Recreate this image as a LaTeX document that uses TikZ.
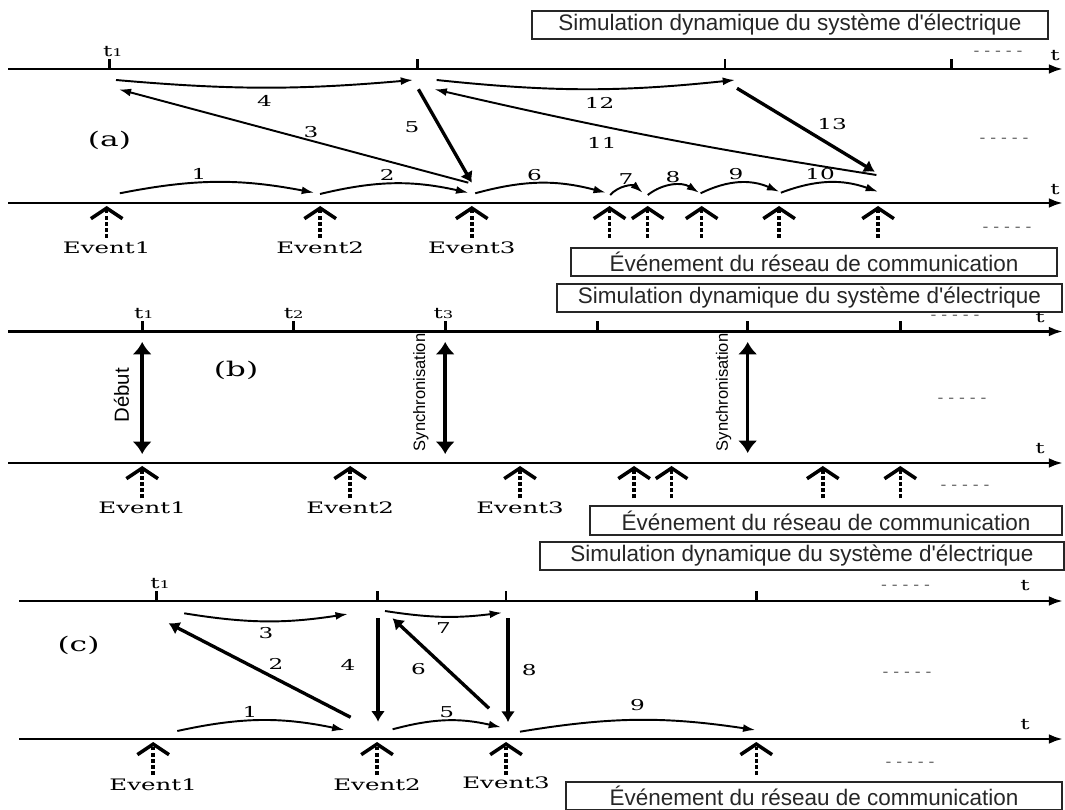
\documentclass[tikz,border=0pt]{standalone}
\usepackage{fontspec}
\setsansfont{Liberation Sans}
\newfontfamily\serwide[FakeStretch=1.55]{DejaVu Serif}
\usepackage{tikz}
\usetikzlibrary{arrows.meta, positioning}

\tikzset{
    axis/.style={line width=1.5pt, -{Latex[length=8pt,width=5.5pt]}},
    tick/.style={line width=1.5pt},
    msg/.style={line width=1.1pt, -{Latex[length=7pt,width=4.5pt]}},
    bigmsg/.style={line width=1.9pt, -{Latex[length=6pt,width=8pt]}},
    event/.style={line width=2pt, dash pattern=on 2.2pt off 1.3pt, -{Straight Barb[length=6pt,width=18pt]}},
    sync/.style={line width=2pt, {Latex[length=7pt,width=11pt]}-{Latex[length=7pt,width=11pt]}},
    titlebox/.style={draw=black!85, line width=0.9pt, font=\sffamily\fontsize{12.8}{14}\selectfont, text=black!85, minimum height=0.56cm, inner sep=0pt},
    num/.style={font=\serwide\fontsize{8.5}{10}\selectfont, inner sep=1pt},
    evlbl/.style={font=\serwide\fontsize{9}{10}\selectfont, inner sep=1pt},
    tlbl/.style={font=\serwide\fontsize{8.5}{10}\selectfont, inner sep=1pt},
    part/.style={font=\serwide\fontsize{11.5}{13}\selectfont},
    dots/.style={font=\sffamily\fontsize{10}{10}\selectfont, text=black!55, inner sep=0pt},
    side/.style={font=\sffamily\fontsize{#1}{#1}\selectfont, rotate=90, inner sep=0pt}
}

\begin{document}
\begin{tikzpicture}[x=0.02cm, y=-0.02cm]
    \useasboundingbox (0,0) rectangle (1065,810);

    % ---------------- (a) ----------------
    \node[titlebox, minimum width=10.32cm] (simA) at (790,25) {Simulation dynamique du système d\textquotesingle électrique};
    \node[titlebox, minimum width=9.72cm] (resA) at (814,262) {Événement du réseau de communication};
    \coordinate (aT0) at (8,69);  \coordinate (aT1) at (1063,69);
    \coordinate (aB0) at (8,203); \coordinate (aB1) at (1063,203);
    \draw[axis] (aT0) -- (aT1);
    \draw[axis] (aB0) -- (aB1);
    \coordinate (ta1) at (109.5,69); \coordinate (ta2) at (417.7,69);
    \coordinate (ta3) at (725,69);   \coordinate (ta4) at (951.5,69);
    \draw[tick] (ta1) -- ++(0,-10) (ta2) -- ++(0,-10) (ta3) -- ++(0,-10) (ta4) -- ++(0,-10);
    \node[tlbl, above=6pt of ta1, xshift=2pt] (lta1) {t{\fontsize{6}{6}\selectfont 1}};
    \node[tlbl] (tA1) at (1055,56) {t};
    \node[tlbl] (tA2) at (1055,190) {t};
    \node[dots] (dA1) at (998,54) {- - - - -};
    \node[dots] (dA2) at (1004,141) {- - - - -};
    \node[dots] (dA3) at (1007,230) {- - - - -};
    \node[part] (pa) at (109.5,140) {(a)};

    % events (a)
    \coordinate (ea1) at (106.7,206); \coordinate (eb1) at (106.7,238);
    \coordinate (ea2) at (320.2,206); \coordinate (eb2) at (320.2,238);
    \coordinate (ea3) at (471.8,206); \coordinate (eb3) at (471.8,238);
    \coordinate (ea4) at (609.5,206); \coordinate (eb4) at (609.5,238);
    \coordinate (ea5) at (647.7,206); \coordinate (eb5) at (647.7,238);
    \coordinate (ea6) at (701.7,206); \coordinate (eb6) at (701.7,238);
    \coordinate (ea7) at (779.1,206); \coordinate (eb7) at (779.1,238);
    \coordinate (ea8) at (878.1,206); \coordinate (eb8) at (878.1,238);
    \path[event] (eb1) edge (ea1) (eb2) edge (ea2) (eb3) edge (ea3) (eb4) edge (ea4)
                 (eb5) edge (ea5) (eb6) edge (ea6) (eb7) edge (ea7) (eb8) edge (ea8);
    \node[evlbl, below=1pt of eb1] (Ea1) {Event1};
    \node[evlbl, below=1pt of eb2] (Ea2) {Event2};
    \node[evlbl, below=1pt of eb3] (Ea3) {Event3};

    % messages (a)
    \coordinate (a1s) at (119.8,193.3);  \coordinate (a1e) at (314,192.7);
    \coordinate (a2s) at (320,194);      \coordinate (a2e) at (468.3,192.7);
    \coordinate (a6s) at (475.2,193.3);  \coordinate (a6e) at (605.8,192.7);
    \coordinate (a7s) at (610.2,195);    \coordinate (a7e) at (642.6,192.7);
    \coordinate (a8s) at (647.7,195);    \coordinate (a8e) at (699,192.7);
    \coordinate (a9s) at (700.6,193.3);  \coordinate (a9e) at (779.2,191.7);
    \coordinate (a10s) at (780.9,192.7); \coordinate (a10e) at (878,191.7);
    \coordinate (a4s) at (116,80);       \coordinate (a4e) at (413,80);
    \coordinate (a12s) at (436.6,80);    \coordinate (a12e) at (735,80);
    \coordinate (a3s) at (468.3,182.7);  \coordinate (a3e) at (118.8,89.3);
    \coordinate (a5s) at (418.4,89.3);   \coordinate (a5e) at (471.8,182.7);
    \coordinate (a11s) at (876.4,175);   \coordinate (a11e) at (434.6,89.3);
    \coordinate (a13s) at (737,88.3);    \coordinate (a13e) at (874.7,171.7);

    \path[msg]
    (a1s) edge [bend left=11] node[num, above, pos=.4] {1} (a1e)
    (a2s) edge [bend left=13] node[num, above, pos=.45] {2} (a2e)
    (a6s) edge [bend left=15] node[num, above, pos=.45] {6} (a6e)
    (a7s) edge [bend left=45] node[num, above] {7} (a7e)
    (a8s) edge [bend left=35] node[num, above] {8} (a8e)
    (a9s) edge [bend left=25] node[num, above, pos=.45] {9} (a9e)
    (a10s) edge [bend left=20] node[num, above, pos=.4] {10} (a10e)
    (a4s) edge [bend right=5] node[num, below=3pt] {4} (a4e)
    (a12s) edge [bend right=6] node[num, below=3pt, pos=.55] {12} (a12e)
    (a3s) edge node[num, above, pos=.45] {3} (a3e)
    (a11s) edge [bend left=2] node[num, below=5pt, pos=.63] {11} (a11e);
    \path[bigmsg]
    (a5s) edge node[num, left=10pt, pos=.41] {5} (a5e)
    (a13s) edge node[num, above right=1pt, pos=.55] {13} (a13e);

    % ---------------- (b) ----------------
    \node[titlebox, minimum width=10.1cm] (simB) at (809.5,298) {Simulation dynamique du système d\textquotesingle électrique};
    \node[titlebox, minimum width=9.44cm, minimum height=0.58cm] (resB) at (826,520.5) {Événement du réseau de communication};
    \coordinate (bT0) at (8,331.5); \coordinate (bT1) at (1063,331.5);
    \coordinate (bB0) at (8,463);   \coordinate (bB1) at (1063,463);
    \draw[axis] (bT0) -- (bT1);
    \draw[axis] (bB0) -- (bB1);
    \coordinate (tb1) at (142.2,331.5); \coordinate (tb2) at (293.7,331.5);
    \coordinate (tb3) at (445.2,331.5); \coordinate (tb4) at (597.2,331.5);
    \coordinate (tb5) at (747.7,331.5); \coordinate (tb6) at (900.3,331.5);
    \draw[tick] (tb1) -- ++(0,-10) (tb2) -- ++(0,-10) (tb3) -- ++(0,-10)
                (tb4) -- ++(0,-10) (tb5) -- ++(0,-10) (tb6) -- ++(0,-10);
    \node[tlbl, above=6pt of tb1, xshift=1pt] (ltb1) {t{\fontsize{6}{6}\selectfont 1}};
    \node[tlbl, above=6pt of tb2] (ltb2) {t{\fontsize{6}{6}\selectfont 2}};
    \node[tlbl, above=6pt of tb3, xshift=-1pt] (ltb3) {t{\fontsize{6}{6}\selectfont 3}};
    \node[tlbl] (tB1) at (1040,318) {t};
    \node[tlbl] (tB2) at (1040,449) {t};
    \node[dots] (dB1) at (955,318) {- - - - -};
    \node[dots] (dB2) at (962,401) {- - - - -};
    \node[dots] (dB3) at (965,488) {- - - - -};
    \node[part] (pb) at (236,370) {(b)};

    % start and synchronisation
    \coordinate (s1t) at (142.2,342); \coordinate (s1b) at (142.2,454);
    \coordinate (s2t) at (445.2,342); \coordinate (s2b) at (445.2,454);
    \coordinate (s3t) at (747.7,342); \coordinate (s3b) at (747.7,453);
    \draw[sync] (s1t) -- (s1b);
    \draw[sync] (s2t) -- (s2b);
    \draw[sync] (s3t) -- (s3b);
    \node[side=11.6] (deb) at (121.5,395.5) {Début};
    \node[side=9.4] (syn1) at (420.8,392.5) {Synchronisation};
    \node[side=9.4] (syn2) at (723.5,392.5) {Synchronisation};

    % events (b)
    \coordinate (fa1) at (142.2,466); \coordinate (fb1) at (142.2,498.3);
    \coordinate (fa2) at (350.2,466); \coordinate (fb2) at (350.2,498.3);
    \coordinate (fa3) at (520,466);   \coordinate (fb3) at (520,498.3);
    \coordinate (fa4) at (634.1,466); \coordinate (fb4) at (634.1,498.3);
    \coordinate (fa5) at (671.6,466); \coordinate (fb5) at (671.6,498.3);
    \coordinate (fa6) at (822.8,466); \coordinate (fb6) at (822.8,498.3);
    \coordinate (fa7) at (900.3,466); \coordinate (fb7) at (900.3,498.3);
    \path[event] (fb1) edge (fa1) (fb2) edge (fa2) (fb3) edge (fa3) (fb4) edge (fa4)
                 (fb5) edge (fa5) (fb6) edge (fa6) (fb7) edge (fa7);
    \node[evlbl, below=1pt of fb1] (Eb1) {Event1};
    \node[evlbl, below=1pt of fb2] (Eb2) {Event2};
    \node[evlbl, below=1pt of fb3] (Eb3) {Event3};

    % ---------------- (c) ----------------
    \node[titlebox, minimum width=10.48cm] (simC) at (802,556) {Simulation dynamique du système d\textquotesingle électrique};
    \node[titlebox, minimum width=9.92cm] (resC) at (814,796) {Événement du réseau de communication};
    \coordinate (cT0) at (19,601); \coordinate (cT1) at (1063,601);
    \coordinate (cB0) at (19,739); \coordinate (cB1) at (1063,739);
    \draw[axis] (cT0) -- (cT1);
    \draw[axis] (cB0) -- (cB1);
    \coordinate (tc1) at (156.7,601); \coordinate (tc2) at (377.5,601);
    \coordinate (tc3) at (506,601);   \coordinate (tc4) at (756.3,601);
    \draw[tick] (tc1) -- ++(0,-10) (tc2) -- ++(0,-10) (tc3) -- ++(0,-10) (tc4) -- ++(0,-10);
    \node[tlbl, above=6pt of tc1, xshift=2pt] (ltc1) {t{\fontsize{6}{6}\selectfont 1}};
    \node[tlbl] (tC1) at (1025,586) {t};
    \node[tlbl] (tC2) at (1025,724.3) {t};
    \node[dots] (dC1) at (905.6,588) {- - - - -};
    \node[dots] (dC2) at (907,675) {- - - - -};
    \node[dots] (dC3) at (910,765) {- - - - -};
    \node[part] (pc) at (78.5,645) {(c)};

    % events (c)
    \coordinate (ga1) at (153.2,742); \coordinate (gb1) at (153.2,775);
    \coordinate (ga2) at (377,742);   \coordinate (gb2) at (377,775);
    \coordinate (ga3) at (506,742);   \coordinate (gb3) at (506,775);
    \coordinate (ga4) at (756.3,742); \coordinate (gb4) at (756.3,775);
    \path[event] (gb1) edge (ga1) (gb2) edge (ga2) (gb3) edge (ga3) (gb4) edge (ga4);
    \node[evlbl, below=1pt of gb1] (Ec1) {Event1};
    \node[evlbl, below=1pt of gb2] (Ec2) {Event2};
    \node[evlbl, below=0pt of gb3] (Ec3) {Event3};

    % messages (c)
    \coordinate (c1s) at (177.3,731);   \coordinate (c1e) at (344.4,730);
    \coordinate (c2s) at (350.6,717.3); \coordinate (c2e) at (168.7,623.3);
    \coordinate (c3s) at (184.2,613.3); \coordinate (c3e) at (347.8,614);
    \coordinate (c4s) at (378,618.3);   \coordinate (c4e) at (378,721.7);
    \coordinate (c5s) at (392.6,729.3); \coordinate (c5e) at (501,727.3);
    \coordinate (c6s) at (489,708.3);   \coordinate (c6e) at (392.6,618.3);
    \coordinate (c7s) at (385,611);     \coordinate (c7e) at (502,612.7);
    \coordinate (c8s) at (508,618);     \coordinate (c8e) at (508,722);
    \coordinate (c9s) at (520,731.7);   \coordinate (c9e) at (755.3,730);

    \path[msg]
    (c1s) edge [bend left=12] node[num, above, pos=.43] {1} (c1e)
    (c3s) edge [bend right=9] node[num, below=2pt] {3} (c3e)
    (c5s) edge [bend left=14] node[num, above] {5} (c5e)
    (c7s) edge [bend right=8] node[num, below=2pt] {7} (c7e)
    (c9s) edge [bend left=9] node[num, above=4pt] {9} (c9e);
    \path[bigmsg]
    (c2s) edge node[num, above right=0pt, pos=.47] {2} (c2e)
    (c4s) edge node[num, left=11pt, pos=.45] {4} (c4e)
    (c6s) edge node[num, below left=3pt, pos=.58] {6} (c6e)
    (c8s) edge node[num, right=6pt] {8} (c8e);

\end{tikzpicture}
\end{document}
